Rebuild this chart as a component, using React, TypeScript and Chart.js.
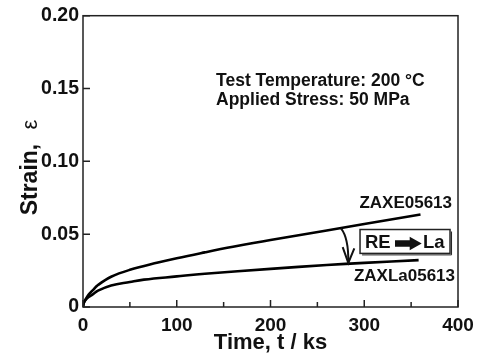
import React, { useEffect, useRef } from 'react';
import { Chart, registerables } from 'chart.js';

Chart.register(...registerables);

// ---- data ----
const upperTime = [0, 1, 3, 6, 10, 16, 30, 50, 80, 100, 130, 160, 200, 260, 300, 360];
const upperStrain = [0, 0.003, 0.0055, 0.0085, 0.0112, 0.0151, 0.0208, 0.0255, 0.0305, 0.0335, 0.0375, 0.0413, 0.046, 0.0525, 0.057, 0.0635];
const lowerTime = [0, 1, 3, 6, 10, 16, 30, 50, 65, 100, 130, 200, 260, 300, 358];
const lowerStrain = [0, 0.003, 0.005, 0.0068, 0.0085, 0.0112, 0.0148, 0.0172, 0.0188, 0.021, 0.0228, 0.0262, 0.0288, 0.0303, 0.0322];
const seriesNames = ['ZAXE05613', 'ZAXLa05613'];
const xTicks = [0, 100, 200, 300, 400];
const xMinorTicks = [50, 150, 250, 350];
const yTicks = [0, 0.05, 0.1, 0.15, 0.2];
const xTitle = 'Time, t / ks';
const yTitleMain = 'Strain,';
const yTitleSymbol = 'ε';
const conditionLines = ['Test Temperature: 200 °C', 'Applied Stress: 50 MPa'];
const changeLabel = ['RE', 'La'];

const FONT = "'Liberation Sans', Arial, sans-serif";

const annotationPlugin = {
  id: 'annotations',
  afterDatasetsDraw(chart: any) {
    const { ctx, chartArea } = chart;
    const xs = chart.scales.x;
    const ys = chart.scales.y;
    const px = (t: number) => xs.getPixelForValue(t);
    const py = (s: number) => ys.getPixelForValue(s);
    ctx.save();
    // frame
    ctx.strokeStyle = '#222';
    ctx.lineWidth = 1.5;
    ctx.strokeRect(chartArea.left, chartArea.top, chartArea.right - chartArea.left, chartArea.bottom - chartArea.top);
    // inward ticks
    ctx.beginPath();
    xTicks.forEach((v) => {
      const x = px(v);
      ctx.moveTo(x, chartArea.bottom);
      ctx.lineTo(x, chartArea.bottom - 7);
    });
    xMinorTicks.forEach((v) => {
      const x = px(v);
      ctx.moveTo(x, chartArea.bottom);
      ctx.lineTo(x, chartArea.bottom - 5);
    });
    yTicks.forEach((v) => {
      const y = py(v);
      ctx.moveTo(chartArea.left, y);
      ctx.lineTo(chartArea.left + 7, y);
    });
    ctx.stroke();

    ctx.fillStyle = '#111';
    // y axis title (bold word, regular symbol), rotated
    ctx.save();
    ctx.translate(37, (chartArea.top + chartArea.bottom) / 2 + 54);
    ctx.rotate(-Math.PI / 2);
    ctx.textAlign = 'left';
    ctx.textBaseline = 'alphabetic';
    ctx.font = `bold 23px ${FONT}`;
    ctx.fillText(yTitleMain, 0, 0);
    const w = ctx.measureText(yTitleMain + ' ').width;
    ctx.font = `22px ${FONT}`;
    ctx.fillText(yTitleSymbol, w + 8, 0);
    ctx.restore();

    // conditions
    ctx.font = `bold 17.5px ${FONT}`;
    ctx.textAlign = 'left';
    ctx.textBaseline = 'alphabetic';
    ctx.fillText(conditionLines[0], px(141.9), py(0.1514));
    ctx.fillText(conditionLines[1], px(141.9), py(0.1384));

    // series labels
    ctx.font = `bold 17px ${FONT}`;
    ctx.textAlign = 'right';
    ctx.fillText(seriesNames[0], px(393.6), py(0.0678));
    ctx.fillText(seriesNames[1], px(396.8), py(0.0178));

    // box
    ctx.lineWidth = 1.5;
    ctx.strokeStyle = '#222';
    const bx0 = px(295.5), bx1 = px(391.5), by0 = py(0.0532), by1 = py(0.0368);
    ctx.strokeRect(bx0, by0, bx1 - bx0, by1 - by0);
    ctx.beginPath();
    ctx.lineWidth = 1;
    ctx.moveTo(bx0 + 2, by1 + 1.5);
    ctx.lineTo(bx1 + 1.5, by1 + 1.5);
    ctx.lineTo(bx1 + 1.5, by0 + 2);
    ctx.stroke();
    ctx.font = `bold 18.5px ${FONT}`;
    ctx.textAlign = 'left';
    ctx.fillText(changeLabel[0], px(300.8), py(0.0402));
    ctx.fillText(changeLabel[1], px(362.7), py(0.0402));
    // thick right arrow
    const ax0 = px(332.8), ax1 = px(361.3), ay = py(0.0436);
    const headStart = ax0 + (ax1 - ax0) * 0.55;
    ctx.beginPath();
    ctx.moveTo(ax0, ay - 3.2);
    ctx.lineTo(headStart, ay - 3.2);
    ctx.lineTo(headStart, ay - 6.8);
    ctx.lineTo(ax1, ay);
    ctx.lineTo(headStart, ay + 6.8);
    ctx.lineTo(headStart, ay + 3.2);
    ctx.lineTo(ax0, ay + 3.2);
    ctx.closePath();
    ctx.fill();

    // curved arrow between curves
    ctx.strokeStyle = '#111';
    ctx.lineWidth = 2;
    ctx.beginPath();
    ctx.moveTo(px(275.2), py(0.0539));
    ctx.quadraticCurveTo(px(283.4), py(0.0473), px(283), py(0.0303));
    ctx.stroke();
    ctx.beginPath();
    ctx.moveTo(px(277.0), py(0.0411));
    ctx.lineTo(px(283), py(0.0303));
    ctx.lineTo(px(289.4), py(0.0402));
    ctx.stroke();
    ctx.restore();
  },
};

export default function App() {
  const ref = useRef<HTMLCanvasElement | null>(null);
  useEffect(() => {
    if (!ref.current) return;
    const chart = new Chart(ref.current, {
      type: 'line',
      data: {
        datasets: [
          {
            label: seriesNames[0],
            data: upperTime.map((t, i) => ({ x: t, y: upperStrain[i] })),
            borderColor: '#000',
            borderWidth: 2.6,
            pointRadius: 0,
            tension: 0.4,
            fill: false,
          },
          {
            label: seriesNames[1],
            data: lowerTime.map((t, i) => ({ x: t, y: lowerStrain[i] })),
            borderColor: '#000',
            borderWidth: 2.6,
            pointRadius: 0,
            tension: 0.4,
            fill: false,
          },
        ],
      },
      options: {
        responsive: false,
        animation: false,
        devicePixelRatio: 1,
        layout: { padding: { left: 0, top: 15, right: 23, bottom: 0 } },
        plugins: { legend: { display: false }, tooltip: { enabled: false } },
        scales: {
          x: {
            type: 'linear',
            min: 0,
            max: 400,
            grid: { display: false, drawTicks: false },
            border: { display: false },
            afterBuildTicks: (s: any) => {
              s.ticks = xTicks.map((v) => ({ value: v }));
            },
            afterFit: (s: any) => {
              s.height = 50;
            },
            ticks: {
              padding: 7,
              color: '#111',
              font: { family: FONT, size: 19, weight: 'bold' },
              maxRotation: 0,
              callback: (v: any) => String(v),
            },
            title: {
              display: true,
              text: xTitle,
              color: '#111',
              font: { family: FONT, size: 22, weight: 'bold' },
              padding: { top: 0, bottom: 1 },
            },
          },
          y: {
            type: 'linear',
            min: 0,
            max: 0.2,
            grid: { display: false, drawTicks: false },
            border: { display: false },
            afterBuildTicks: (s: any) => {
              s.ticks = yTicks.map((v) => ({ value: v }));
            },
            afterFit: (s: any) => {
              s.width = 83;
            },
            ticks: {
              padding: 4,
              color: '#111',
              font: { family: FONT, size: 19.5, weight: 'bold' },
              callback: (v: any) => (v === 0 ? '0' : Number(v).toFixed(2)),
            },
            title: { display: false },
          },
        },
      },
      plugins: [annotationPlugin],
    });
    return () => chart.destroy();
  }, []);
  return (
    <div style={{ position: 'fixed', left: 0, top: 0, width: 481, height: 357, background: '#fff' }}>
      <canvas ref={ref} width={481} height={357} style={{ width: 481, height: 357 }} />
    </div>
  );
}
